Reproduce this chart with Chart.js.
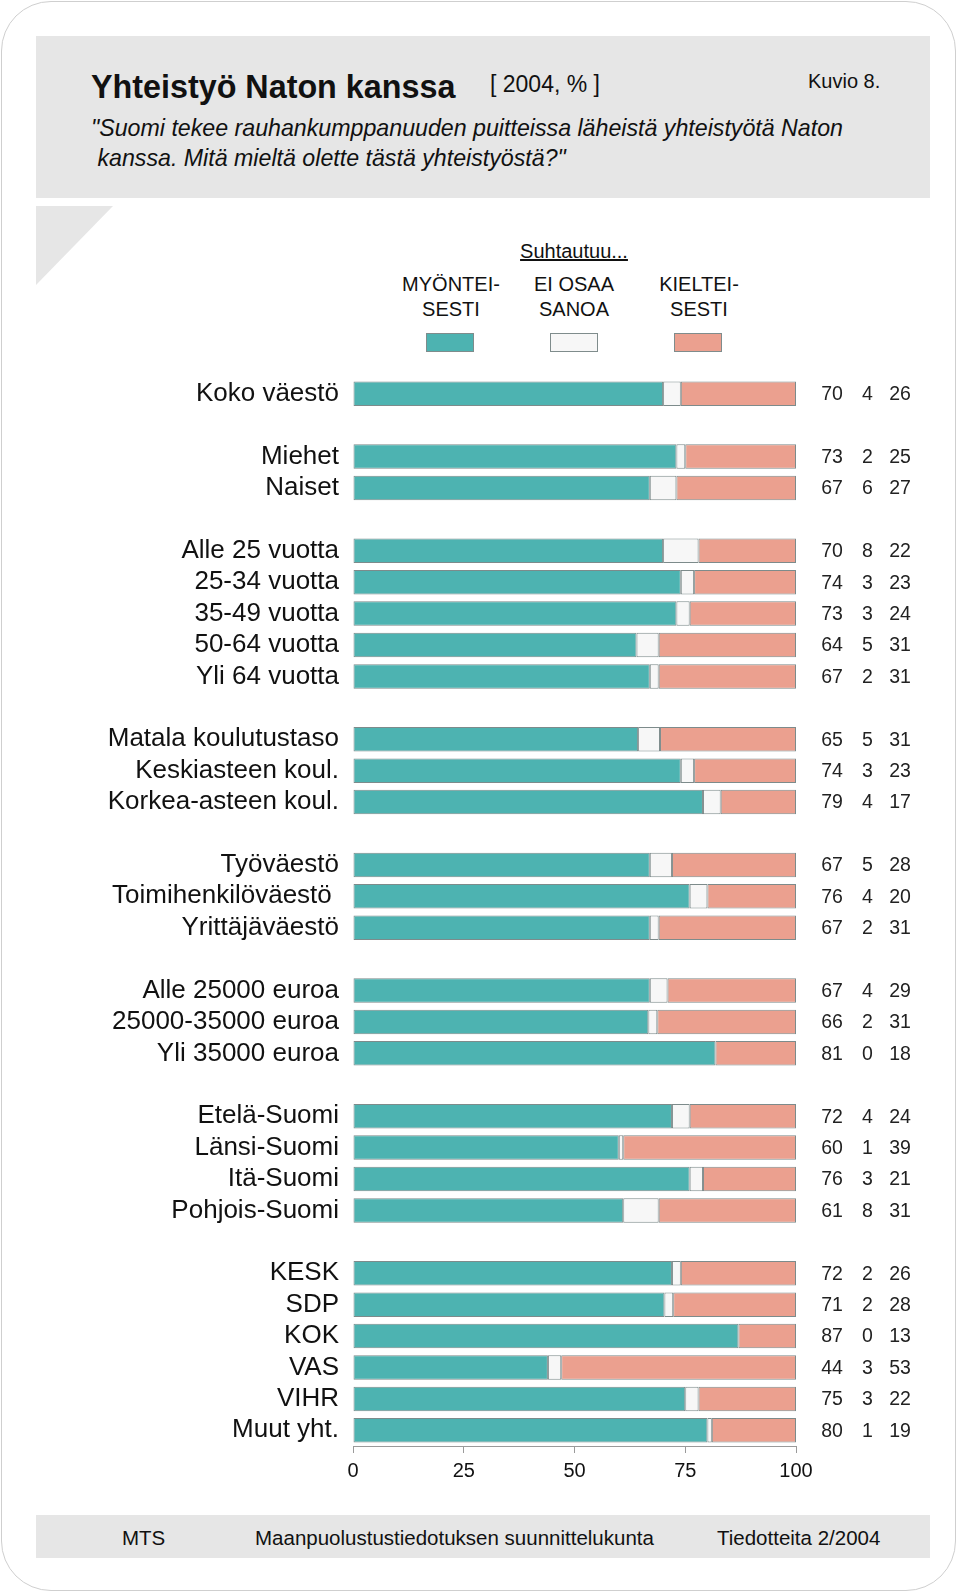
<!DOCTYPE html>
<html>
<head>
<meta charset="utf-8">
<script src="https://cdn.jsdelivr.net/npm/chart.js@4.4.1/dist/chart.umd.min.js"></script>
<style>
  html, body { margin:0; padding:0; background:#fff; }
  #page { position:relative; width:960px; height:1595px; overflow:hidden; font-family:"Liberation Sans", Arial, sans-serif; color:#111; }
  .abs { position:absolute; white-space:nowrap; }
  #frame { position:absolute; left:1px; top:1px; width:955px; height:1590px; border:1.5px solid #cfcfcf; border-radius:50px; box-sizing:border-box; }
  #head { position:absolute; left:36px; top:36px; width:894px; height:162px; background:#e6e6e6; }
  #foot { position:absolute; left:36px; top:1515px; width:894px; height:43px; background:#e6e6e6; }
  #tri { position:absolute; left:36px; top:206px; width:77px; height:79px; background:#e6e6e6; clip-path:polygon(0 0,100% 0,0 100%); }
  .sw { position:absolute; top:333px; width:48px; height:19px; box-sizing:border-box; border:1px solid #7f8c8c; }
  .leg { position:absolute; width:140px; text-align:center; font-size:20px; line-height:25px; }
  canvas { position:absolute; left:0; top:0; }
</style>
</head>
<body>
<div id="page">
  <div id="frame"></div>
  <div id="head"></div>
  <div id="tri"></div>
  <div id="foot"></div>

  <div class="abs" style="left:91px; top:69px; font-size:32.3px; font-weight:bold; line-height:36px;">Yhteistyö Naton kanssa</div>
  <div class="abs" style="left:490px; top:71px; font-size:23px; line-height:26px;">[ 2004, % ]</div>
  <div class="abs" style="left:808px; top:69px; font-size:20px; line-height:24px;">Kuvio 8.</div>
  <div class="abs" style="left:91px; top:114px; font-size:23.2px; font-style:italic; line-height:29.6px;">"Suomi tekee rauhankumppanuuden puitteissa läheistä yhteistyötä Naton<br>&nbsp;kanssa. Mitä mieltä olette tästä yhteistyöstä?"</div>

  <div class="leg" style="left:504px; top:239px; text-decoration:underline;">Suhtautuu...</div>
  <div class="leg" style="left:381px; top:272px;">MYÖNTEI-<br>SESTI</div>
  <div class="leg" style="left:504px; top:272px;">EI OSAA<br>SANOA</div>
  <div class="leg" style="left:629px; top:272px;">KIELTEI-<br>SESTI</div>
  <div class="sw" style="left:426px; background:#4db3b1;"></div>
  <div class="sw" style="left:550px; background:#f7f7f7;"></div>
  <div class="sw" style="left:674px; background:#eba08f;"></div>

  <div class="abs" style="left:122px; top:1526px; font-size:20.5px; line-height:24px;">MTS</div>
  <div class="abs" style="left:255px; top:1526px; font-size:20.5px; line-height:24px;">Maanpuolustustiedotuksen suunnittelukunta</div>
  <div class="abs" style="left:717px; top:1526px; font-size:20.5px; line-height:24px;">Tiedotteita 2/2004</div>

  <canvas id="c" width="960" height="1595"></canvas>
</div>
<script>
const categories = ['Koko väestö','', 'Miehet','Naiset','',
  'Alle 25 vuotta','25-34 vuotta','35-49 vuotta','50-64 vuotta','Yli 64 vuotta','',
  'Matala koulutustaso','Keskiasteen koul.','Korkea-asteen koul.','',
  'Työväestö','Toimihenkilöväestö ','Yrittäjäväestö','',
  'Alle 25000 euroa','25000-35000 euroa','Yli 35000 euroa','',
  'Etelä-Suomi','Länsi-Suomi','Itä-Suomi','Pohjois-Suomi','',
  'KESK','SDP','KOK','VAS','VIHR','Muut yht.'];
const myonteisesti = [70,null,73,67,null,70,74,73,64,67,null,65,74,79,null,67,76,67,null,67,66,81,null,72,60,76,61,null,72,71,87,44,75,80];
const eiOsaaSanoa  = [4,null,2,6,null,8,3,3,5,2,null,5,3,4,null,5,4,2,null,4,2,0,null,4,1,3,8,null,2,2,0,3,3,1];
const kielteisesti = [26,null,25,27,null,22,23,24,31,31,null,31,23,17,null,28,20,31,null,29,31,18,null,24,39,21,31,null,26,28,13,53,22,19];
const xTicks = [0,25,50,75,100];

const series = [myonteisesti, eiOsaaSanoa, kielteisesti];
// bars are drawn as shares of each row's total (rows sum to 99-101 after rounding)
function share(arr) {
  return arr.map((v,i) => {
    if (v === null) return null;
    const s = myonteisesti[i] + eiOsaaSanoa[i] + kielteisesti[i];
    return v * 100 / s;
  });
}

const numbersPlugin = {
  id: 'rowNumbers',
  afterDatasetsDraw(chart) {
    const ctx = chart.ctx, y = chart.scales.y;
    const cols = [832, 867.5, 900];
    ctx.save();
    ctx.font = '19.5px "Liberation Sans", Arial, sans-serif';
    ctx.fillStyle = '#222';
    ctx.textAlign = 'center';
    ctx.textBaseline = 'middle';
    categories.forEach((c, i) => {
      if (myonteisesti[i] === null) return;
      const py = y.getPixelForValue(i);
      series.forEach((arr, k) => ctx.fillText(String(arr[i]), cols[k], py + 1));
    });
    ctx.restore();
  }
};

const border = '#7d8b8b';
new Chart(document.getElementById('c'), {
  type: 'bar',
  data: {
    labels: categories,
    datasets: [
      { label: 'Myönteisesti', data: share(myonteisesti), backgroundColor: '#4db3b1' },
      { label: 'Ei osaa sanoa', data: share(eiOsaaSanoa), backgroundColor: '#f7f7f7' },
      { label: 'Kielteisesti', data: share(kielteisesti), backgroundColor: '#eba08f' }
    ].map(d => Object.assign(d, { borderColor: border, borderWidth: 1, borderSkipped: false, barPercentage: 0.78, categoryPercentage: 1 }))
  },
  options: {
    indexAxis: 'y',
    responsive: false,
    animation: false,
    events: [],
    layout: { padding: { left: 0, right: 164, top: 378, bottom: 109 } },
    plugins: { legend: { display: false }, tooltip: { enabled: false }, title: { display: false } },
    scales: {
      x: {
        stacked: true, min: 0, max: 100,
        afterBuildTicks(s) { s.ticks = xTicks.map(v => ({ value: v })); },
        afterFit(s) { s.height = 40; },
        grid: { drawOnChartArea: false, drawTicks: true, tickLength: 7, color: '#9a9a9a' },
        border: { display: true, color: '#9a9a9a' },
        ticks: { font: { size: 20, family: '"Liberation Sans", Arial, sans-serif' }, color: '#111', padding: 6 }
      },
      y: {
        stacked: true,
        afterFit(s) { s.width = 353; },
        grid: { display: false, drawTicks: false },
        border: { display: false },
        ticks: { autoSkip: false, font: { size: 26, family: '"Liberation Sans", Arial, sans-serif' }, color: '#111', padding: 14 }
      }
    }
  },
  plugins: [numbersPlugin]
});
</script>
</body>
</html>
